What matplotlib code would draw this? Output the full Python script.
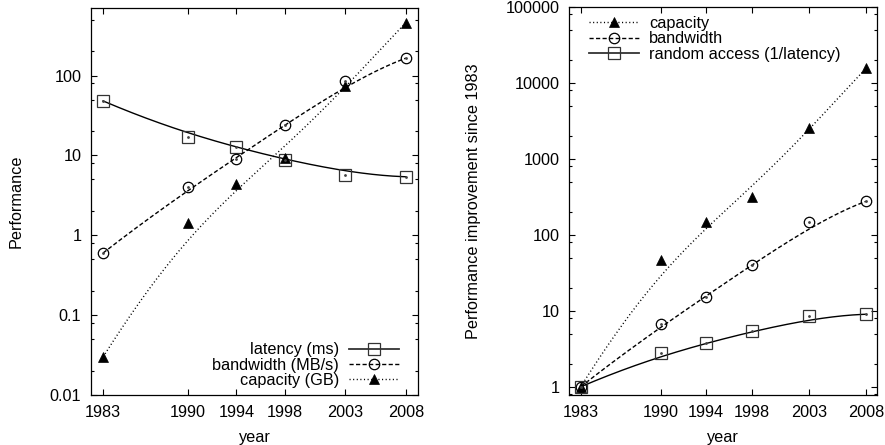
import math
import numpy as np
import matplotlib
matplotlib.use("Agg")
import matplotlib.pyplot as plt
from matplotlib.lines import Line2D
from matplotlib.ticker import LogLocator, FixedLocator, NullFormatter

plt.rcParams['font.family'] = ['Liberation Sans', 'DejaVu Sans']
plt.rcParams['font.size'] = 11.7

years = [1983, 1990, 1994, 1998, 2003, 2008]
year_labels = ['1983', '1990', '1994', '1998', '2003', '2008']

# left panel: absolute performance
latency_ms = [48, 17, 12.6, 8.7, 5.7, 5.4]
bandwidth_mbs = [0.6, 4.0, 9.0, 24, 86, 165]
capacity_gb = [0.03, 1.44, 4.4, 9.3, 74, 460]

# right panel: improvement since 1983
imp_capacity = [1, 47, 148, 310, 2500, 15400]
imp_bandwidth = [1, 6.7, 15, 40, 145, 275]
imp_random = [1, 2.8, 3.75, 5.4, 8.5, 9.0]


def bezier_log(xs, ys, n=300):
    """gnuplot-style 'smooth bezier' in (x, log10 y) space."""
    xs = np.asarray(xs, float)
    ly = np.log10(np.asarray(ys, float))
    k = len(xs) - 1
    t = np.linspace(0, 1, n)
    bx = np.zeros(n)
    by = np.zeros(n)
    for i in range(k + 1):
        b = math.comb(k, i) * t**i * (1 - t)**(k - i)
        bx += b * xs[i]
        by += b * ly[i]
    return bx, 10**by


LW = 1.0
DASHED = (0, (3.0, 1.7))
DOTTED = (0, (0.8, 1.8))
SQ = dict(marker='s', ms=8, mfc='none', mec='#333333', mew=0.9)
CI = dict(marker='o', ms=7.5, mfc='none', mec='black', mew=0.9)
TR = dict(marker='^', ms=7, mfc='black', mec='black', mew=0.5)

fig = plt.figure(figsize=(8.85, 4.45), dpi=100)
axL = fig.add_axes([91/885, 1-395/445, (418-91)/885, (395-8)/445])
axR = fig.add_axes([569.3/885, 1-395/445, (877.3-569.3)/885, (395-6.7)/445])


def style_axes(ax):
    ax.set_yscale('log')
    ax.set_xlim(1982, 2009)
    ax.set_xticks(years)
    ax.set_xticklabels(year_labels)
    ax.xaxis.set_minor_locator(FixedLocator([]))
    ax.yaxis.set_minor_locator(LogLocator(base=10, subs=[2, 5, 8]))
    ax.yaxis.set_minor_formatter(NullFormatter())
    ax.tick_params(which='both', direction='in', top=True, right=True, width=0.8)
    ax.tick_params(which='major', length=4)
    ax.tick_params(which='minor', length=2)
    ax.tick_params(axis='x', pad=7.5)
    ax.tick_params(axis='y', pad=7)
    for s in ax.spines.values():
        s.set_linewidth(0.9)
    ax.set_xlabel('year', labelpad=7)


# ---------- left panel ----------
style_axes(axL)
axL.set_ylim(0.01, 700)
axL.set_yticks([0.01, 0.1, 1, 10, 100])
axL.set_yticklabels(['0.01', '0.1', '1', '10', '100'])
axL.set_ylabel('Performance', labelpad=19)

for vals, ls, mk in [(latency_ms, '-', SQ), (bandwidth_mbs, DASHED, CI), (capacity_gb, DOTTED, TR)]:
    bx, by = bezier_log(years, vals)
    axL.plot(bx, by, color='black', lw=LW, ls=ls)
    axL.plot(years, vals, ls='none', **mk)
for vals in (latency_ms, bandwidth_mbs):
    axL.plot(years, vals, ls='none', marker='o', ms=1, color='#444444')

hL = [Line2D([], [], color='#333333', lw=1.3, ls='-', **SQ),
      Line2D([], [], color='black', lw=LW, ls=DASHED, **CI),
      Line2D([], [], color='black', lw=LW, ls=DOTTED, **TR)]
axL.legend(hL, ['latency (ms)', 'bandwidth (MB/s)', 'capacity (GB)'],
           loc='lower right', markerfirst=False, frameon=False, numpoints=1,
           handlelength=3.1, handletextpad=0.6, labelspacing=0.02,
           borderpad=0, borderaxespad=0, bbox_to_anchor=(0.942, 0.018))

# ---------- right panel ----------
style_axes(axR)
axR.set_ylim(0.78, 1e5)
axR.set_yticks([1, 10, 100, 1000, 10000, 100000])
axR.set_yticklabels(['1', '10', '100', '1000', '10000', '100000'])
axR.set_ylabel('Performance improvement since 1983', labelpad=18)

for vals, ls, mk in [(imp_capacity, DOTTED, TR), (imp_bandwidth, DASHED, CI), (imp_random, '-', SQ)]:
    bx, by = bezier_log(years, vals)
    axR.plot(bx, by, color='black', lw=LW, ls=ls)
    axR.plot(years, vals, ls='none', **mk)
for vals in (imp_bandwidth, imp_random):
    axR.plot(years, vals, ls='none', marker='o', ms=1, color='#444444')

hR = [Line2D([], [], color='black', lw=LW, ls=DOTTED, **TR),
      Line2D([], [], color='black', lw=LW, ls=DASHED, **CI),
      Line2D([], [], color='#333333', lw=1.3, ls='-', **SQ)]
axR.legend(hR, ['capacity', 'bandwidth', 'random access (1/latency)'],
           loc='upper left', frameon=False, numpoints=1,
           handlelength=3.1, handletextpad=0.6, labelspacing=0.02,
           borderpad=0, borderaxespad=0, bbox_to_anchor=(0.064, 0.976))

fig.savefig('out.png', dpi=100)
